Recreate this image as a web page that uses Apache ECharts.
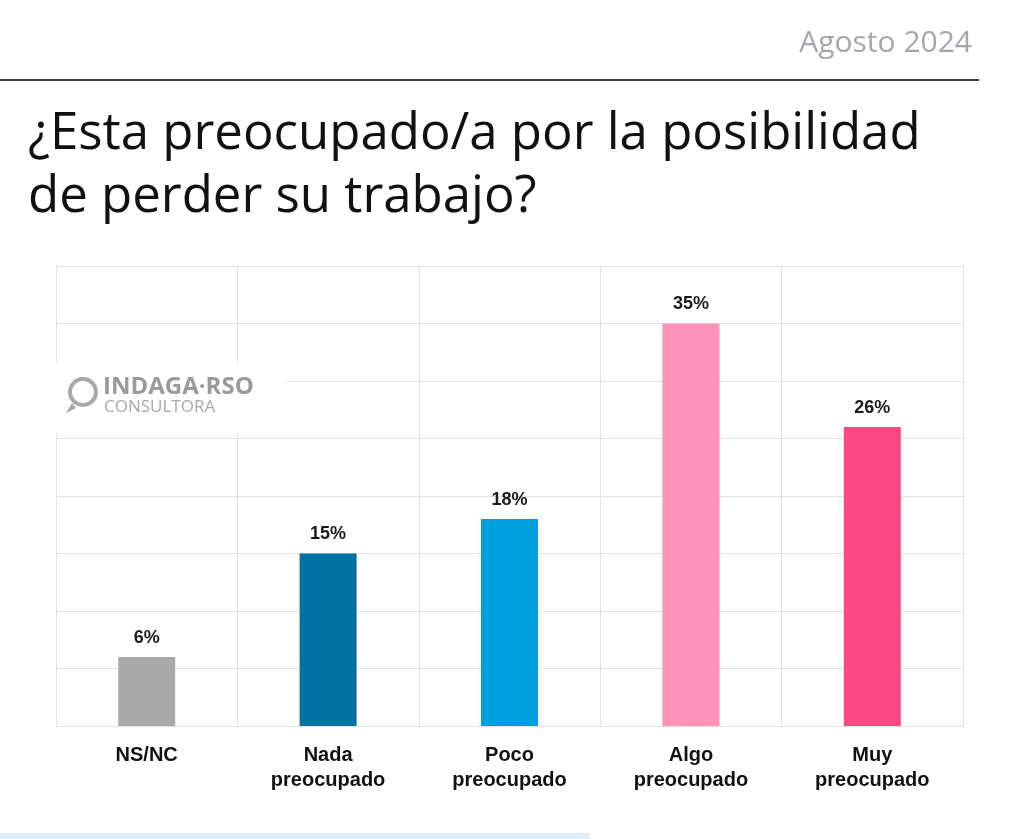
<!DOCTYPE html>
<html><head><meta charset="utf-8">
<script src="https://cdn.jsdelivr.net/npm/echarts@6/dist/echarts.min.js"></script>
<style>html,body{margin:0;padding:0;background:#fff}#c{width:1024px;height:839px}</style>
</head><body><div id="c"></div>
<script>
const categories = ['NS/NC', 'Nada\npreocupado', 'Poco\npreocupado', 'Algo\npreocupado', 'Muy\npreocupado'];
const values = [6, 15, 18, 35, 26];
const barColors = ['#a9a9a9', '#0073a2', '#00a0df', '#fd93b8', '#fd4784'];
const titleLine1 = '¿Esta preocupado/a por la posibilidad';
const titleLine2 = 'de perder su trabajo?';
const dateText = 'Agosto 2024';

const chart = echarts.init(document.getElementById('c'), null, {renderer: 'canvas'});
const gridColor = '#e2e2e2';
chart.setOption({
  animation: false,
  backgroundColor: '#ffffff',
  grid: {left: 56, right: 61, top: 266, bottom: 113, containLabel: false},
  xAxis: {
    type: 'category', data: categories,
    axisLine: {show: true, lineStyle: {color: gridColor, width: 1}},
    axisTick: {show: false},
    splitLine: {show: true, lineStyle: {color: gridColor, width: 1}},
    axisLabel: {margin: 17, color: '#111', fontFamily: 'Liberation Sans', fontWeight: 'bold', fontSize: 20, lineHeight: 25, interval: 0}
  },
  yAxis: {
    type: 'value', min: 0, max: 40, interval: 5,
    axisLine: {show: true, lineStyle: {color: gridColor, width: 1}},
    axisTick: {show: false}, axisLabel: {show: false},
    splitLine: {show: true, lineStyle: {color: gridColor, width: 1}}
  },
  series: [{
    type: 'bar', barWidth: 57,
    data: values.map((v, i) => ({value: v, itemStyle: {color: barColors[i]}})),
    label: {show: true, position: 'top', distance: 10, formatter: '{c}%', color: '#1a1a1a', fontFamily: 'Liberation Sans', fontWeight: 'bold', fontSize: 18}
  }],
  graphic: [
    {type: 'text', x: 972, y: 28, style: {text: dateText, fill: '#a3a6ab', font: '30px "Open Sans"', align: 'right', verticalAlign: 'top'}},
    {type: 'rect', shape: {x: 0, y: 79, width: 979, height: 2}, style: {fill: '#3a3a3a'}},
    {type: 'text', x: 28, y: 108, scaleX: 0.98, style: {text: titleLine1, fill: '#111', font: '52px "Open Sans"', verticalAlign: 'top'}},
    {type: 'text', x: 28, y: 171, scaleX: 0.98, style: {text: titleLine2, fill: '#111', font: '52px "Open Sans"', verticalAlign: 'top'}},
    {type: 'rect', shape: {x: 50, y: 363, width: 235, height: 70}, style: {fill: '#fff'}, z: 100},
    {type: 'circle', shape: {cx: 83, cy: 392, r: 13}, style: {fill: 'none', stroke: '#a8a8a8', lineWidth: 4}, z: 101},
    {type: 'polygon', shape: {points: [[66, 413], [72, 403], [76, 408]]}, style: {fill: '#a8a8a8'}, z: 101},
    {type: 'text', left: 103, top: 375, style: {text: 'INDAGA·RSO', fill: '#9a9a9a', font: 'bold 24px "Open Sans"'}, z: 101},
    {type: 'text', left: 104, top: 399, style: {text: 'CONSULTORA', fill: '#a8a8a8', font: '17px "Open Sans"'}, z: 101},
    {type: 'rect', shape: {x: 0, y: 833, width: 590, height: 6}, style: {fill: '#dceef9'}}
  ]
});
</script></body></html>
